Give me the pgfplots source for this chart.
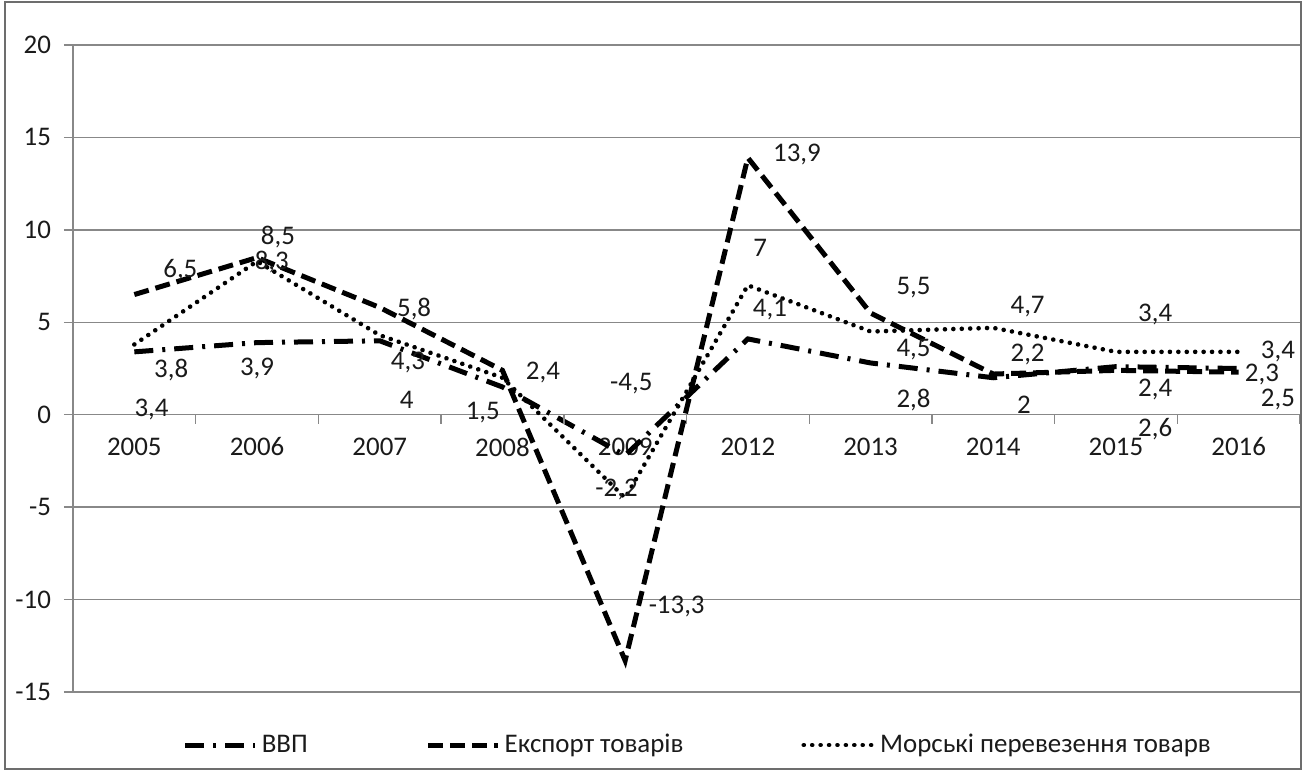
\documentclass[border=0pt]{standalone}
\usepackage{fontspec}
\setmainfont{Carlito}
\usepackage{pgfplots}
\pgfplotsset{compat=1.18}
\definecolor{gridgray}{HTML}{888888}
\definecolor{txt}{HTML}{1A1A1A}
\begin{document}
\begin{tikzpicture}
\begin{axis}[
  at={(0,0)}, anchor=south west,
  scale only axis,
  width=613.5bp, height=323.5bp,
  xmin=-0.5, xmax=9.5, ymin=-15, ymax=20,
  axis x line*=middle, axis y line*=left,
  axis line style={gridgray, line width=0.7bp},
  xtick={0,...,9},
  xticklabels={2005,2006,2007,2008,2009,2012,2013,2014,2015,2016},
  x tick style={draw=none},
  xticklabel style={anchor=north, yshift=-8bp, font=\fontsize{13.5}{15}\selectfont, text=txt},
  ytick={-15,-10,...,20},
  yticklabels={-15,-10,-5,0,5,10,15,20},
  ytick align=outside,
  y tick style={gridgray, line width=0.7bp},
  major tick length=4.5bp,
  yticklabel style={font=\fontsize{13.5}{15}\selectfont, text=txt, xshift=-3bp},
  ymajorgrids,
  grid style={gridgray, line width=0.7bp},
  clip=false,
  legend columns=3,
  legend style={at={(0.51,-0.082)}, anchor=center, draw=none, fill=none,
    font=\fontsize{13.5}{15}\selectfont, text=txt,
    /tikz/every even column/.append style={column sep=57bp},
    /tikz/every odd column/.append style={column sep=0bp}},
  legend cell align=left,
  legend image code/.code={\draw[#1] (0bp,0bp) -- (35bp,0bp);},
]
\addplot[black, line width=2.5bp, dash pattern=on 9.5bp off 4.5bp on 1.5bp off 4.5bp] coordinates {
 (0,3.4)(1,3.9)(2,4)(3,1.5)(4,-2.2)(5,4.1)(6,2.8)(7,2)(8,2.6)(9,2.5)};
\addlegendentry{ВВП}
\addplot[black, line width=2.5bp, dash pattern=on 7.5bp off 3.5bp] coordinates {
 (0,6.5)(1,8.5)(2,5.8)(3,2.4)(4,-13.3)(5,13.9)(6,5.5)(7,2.2)(8,2.4)(9,2.3)};
\addlegendentry{Експорт товарів}
\addplot[black, line width=2.3bp, line cap=round, dash pattern=on 0.01bp off 4.2bp] coordinates {
 (0,3.8)(1,8.3)(2,4.3)(3,2.0)(4,-4.5)(5,7)(6,4.5)(7,4.7)(8,3.4)(9,3.4)};
\addlegendentry{Морські перевезення товарв}
\addplot[draw=none, mark=none, forget plot, nodes near coords, point meta=explicit symbolic,
  nodes near coords style={anchor=center, inner sep=0pt, text=txt, font=\fontsize{13.5}{15}\selectfont}]
  table[meta=lab] {
x y lab
0.375 7.84 6,5
0.30 2.43 3,8
0.14 0.27 3,4
1.17 9.6 8,5
1.12 8.27 8,3
1.0 2.5 3,9
2.28 5.7 5,8
2.23 2.8 4,3
2.22 0.8 4
3.33 2.3 2,4
2.84 0.1 1,5
4.05 1.7 -4,5
3.93 -4.05 -2,2
4.42 -10.4 -13,3
5.4 14.05 13,9
5.1 9.0 7
5.18 5.7 4,1
6.35 6.9 5,5
6.35 3.5 4,5
6.35 0.8 2,8
7.28 5.85 4,7
7.28 3.25 2,2
7.25 0.55 2
8.32 5.4 3,4
8.32 1.35 2,4
8.32 -0.8 2,6
9.32 3.4 3,4
9.19 2.16 2,3
9.32 0.8 2,5
};
\pgfplotsinvokeforeach{0.5,1.5,2.5,3.5,4.5,5.5,6.5,7.5,8.5,9.5}{
  \draw[gridgray, line width=0.7bp] (axis cs:#1,0) -- ([yshift=-4.5bp]axis cs:#1,0);
}
\end{axis}
\draw[gridgray!80!black, line width=0.8bp] (-34bp,-38.5bp) rectangle (614bp,345bp);
\pgfresetboundingbox
\useasboundingbox (-36.5bp,-39.5bp) rectangle (616bp,346bp);
\end{tikzpicture}
\end{document}
